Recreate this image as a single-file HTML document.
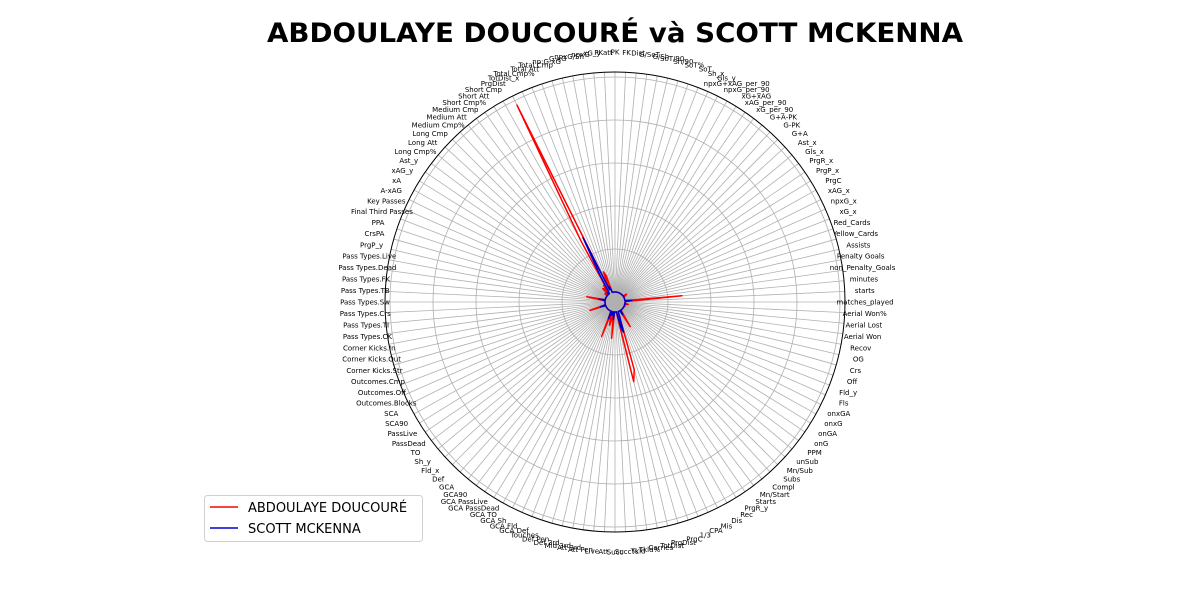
<!DOCTYPE html>
<html><head><meta charset="utf-8"><style>
body{margin:0;background:#fff;}
svg{display:block;font-family:"DejaVu Sans","Liberation Sans",sans-serif;}
</style></head><body>
<svg id="chart" width="1200" height="600" viewBox="0 0 1200 600" xmlns="http://www.w3.org/2000/svg">
<rect width="1200" height="600" fill="#fff"/>
<text x="615" y="42" text-anchor="middle" font-size="27" font-weight="bold" textLength="696" lengthAdjust="spacingAndGlyphs">ABDOULAYE DOUCOURÉ và SCOTT MCKENNA</text>
<g id="grid"></g>
<g id="labels"></g>
<g id="series"></g>
<g>
<rect x="204.5" y="495.5" width="218" height="46" rx="3" fill="#fff" stroke="#d0d0d0"/>
<line x1="210" y1="507" x2="238" y2="507" stroke="#ff0000" stroke-width="1.5"/>
<text x="248" y="512" font-size="13">ABDOULAYE DOUCOURÉ</text>
<line x1="210" y1="528" x2="238" y2="528" stroke="#0000cc" stroke-width="1.5"/>
<text x="248" y="533" font-size="13">SCOTT MCKENNA</text>
</g>
</svg>
<script>
const categories = ["matches_played","starts","minutes","non_Penalty_Goals","Penalty Goals","Assists","Yellow_Cards","Red_Cards","xG_x","npxG_x","xAG_x","PrgC","PrgP_x","PrgR_x","Gls_x","Ast_x","G+A","G-PK","G+A-PK","xG_per_90","xAG_per_90","xG+xAG","npxG_per_90","npxG+xAG_per_90","Gls_y","Sh_x","SoT","SoT%","Sh/90","SoT/90","G/Sh","G/SoT","Dist","FK","PK","PKatt","xG_y","npxG","npxG/Sh","G-xG","np:G-xG","Total Cmp","Total Att","Total Cmp%","TotDist_x","PrgDist","Short Cmp","Short Att","Short Cmp%","Medium Cmp","Medium Att","Medium Cmp%","Long Cmp","Long Att","Long Cmp%","Ast_y","xAG_y","xA","A-xAG","Key Passes","Final Third Passes","PPA","CrsPA","PrgP_y","Pass Types.Live","Pass Types.Dead","Pass Types.FK","Pass Types.TB","Pass Types.Sw","Pass Types.Crs","Pass Types.TI","Pass Types.CK","Corner Kicks.In","Corner Kicks.Out","Corner Kicks.Str","Outcomes.Cmp","Outcomes.Off","Outcomes.Blocks","SCA","SCA90","PassLive","PassDead","TO","Sh_y","Fld_x","Def","GCA","GCA90","GCA PassLive","GCA PassDead","GCA TO","GCA Sh","GCA Fld","GCA Def","Touches","Def Pen","Def 3rd","Mid 3rd","Att 3rd","Att Pen","Live","Att","Succ","Succ%","Tkld","Tkld%","Carries","TotDist","PrgDist","PrgC","1/3","CPA","Mis","Dis","Rec","PrgR_y","Starts","Mn/Start","Compl","Subs","Mn/Sub","unSub","PPM","onG","onGA","onxG","onxGA","Fls","Fld_y","Off","Crs","OG","Recov","Aerial Won","Aerial Lost","Aerial Won%"];
const seriesNames = ["ABDOULAYE DOUCOURÉ","SCOTT MCKENNA"];
const doucoureNonZero = {"matches_played":18,"starts":15,"minutes":1330,"PrgC":20,"PrgP_x":60,"PrgR_x":90,"Total Cmp":420,"Total Att":520,"Total Cmp%":80,"TotDist_x":4880,"PrgDist":1400,"Short Cmp":200,"Short Att":230,"Medium Cmp":170,"Medium Att":190,"Long Cmp":40,"Long Att":70,"Pass Types.Live":435,"Pass Types.Dead":60,"Outcomes.Cmp":380,"Touches":630,"Def 3rd":150,"Mid 3rd":320,"Att 3rd":180,"Live":615,"Carries":260,"TotDist":1670,"PrgDist_c":0,"Rec":440,"PrgR_y":90,"Recov":80,"Fls":20,"Aerial Won":15};
const mckennaNonZero = {"matches_played":3,"starts":2,"minutes":160,"Total Cmp":120,"Total Att":150,"Total Cmp%":80,"TotDist_x":1440,"PrgDist":500,"Short Cmp":60,"Medium Cmp":50,"Pass Types.Live":140,"Outcomes.Cmp":120,"Touches":180,"Def 3rd":90,"Mid 3rd":70,"Live":175,"Carries":90,"TotDist":400,"Rec":110,"Recov":20};
const radialTicks = [1000,2000,3000,4000,5000];

const CX=615, CY=302, R0=10, PXPER=0.043, ROUT=230, NS="http://www.w3.org/2000/svg";
function rScale(v){return R0+v*PXPER;}
function angle(i){return i*2*Math.PI/categories.length;}
function pt(i,r){return [CX+r*Math.cos(angle(i)), CY-r*Math.sin(angle(i))];}
function mk(tag,attrs,parent){const e=document.createElementNS(NS,tag);for(const k in attrs)e.setAttribute(k,attrs[k]);parent.appendChild(e);return e;}

const grid=document.getElementById('grid');
categories.forEach((c,i)=>{
  const p=pt(i,ROUT);
  const l=mk('line',{x1:CX,y1:CY,x2:p[0].toFixed(2),y2:p[1].toFixed(2),stroke:'#b0b0b0','stroke-width':0.8},grid);
  
  
});
radialTicks.forEach(t=>{
  const c=mk('circle',{cx:CX,cy:CY,r:rScale(t),fill:'none',stroke:'#b0b0b0','stroke-width':0.8},grid);
  
  
});
const sp=mk('circle',{cx:CX,cy:CY,r:ROUT,fill:'none',stroke:'#000','stroke-width':1},grid);



const lab=document.getElementById('labels');
categories.forEach((c,i)=>{
  const p=pt(i,250);
  const t=mk('text',{x:p[0].toFixed(1),y:(p[1]+2.5).toFixed(1),'text-anchor':'middle','font-size':7,fill:'#000'},lab);
  t.textContent=c;
  
  
});

const ser=document.getElementById('series');
function draw(map,color,name){
  const pts=categories.map((c,i)=>pt(i,rScale(map[c]||0)));
  pts.push(pts[0]);
  const pl=mk('polyline',{points:pts.map(p=>p[0].toFixed(2)+','+p[1].toFixed(2)).join(' '),fill:'none',stroke:color,'stroke-width':1.5,'stroke-linejoin':'round'},ser);
  
  
}
draw(doucoureNonZero,'#ff0000','series-doucoure');
draw(mckennaNonZero,'#0000cc','series-mckenna');
</script>
</body></html>
